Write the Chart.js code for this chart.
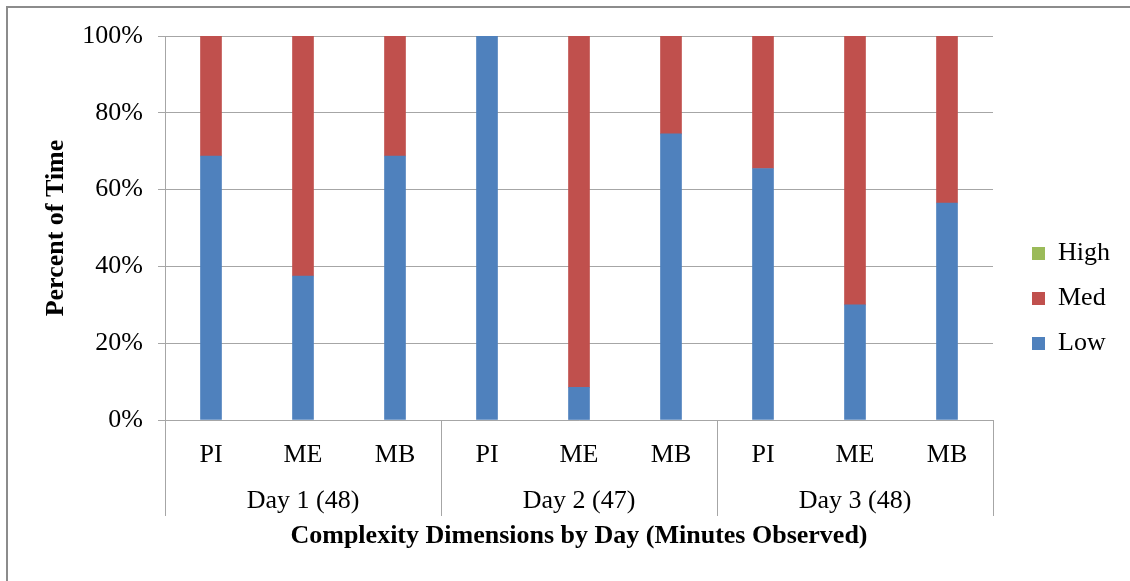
<!DOCTYPE html>
<html>
<head>
<meta charset="utf-8">
<script src="https://cdn.jsdelivr.net/npm/chart.js@4.4.1/dist/chart.umd.min.js"></script>
<style>
  html, body { margin: 0; padding: 0; background: #fff; }
  #wrap { position: relative; width: 1130px; height: 581px; }
</style>
</head>
<body>
<div id="wrap"><canvas id="complexityChart" width="1130" height="581"></canvas></div>
<script>
// Категории: измерение сложности по дням
const dimensions = ['PI', 'ME', 'MB', 'PI', 'ME', 'MB', 'PI', 'ME', 'MB'];
const dayLabels = ['Day 1 (48)', 'Day 2 (47)', 'Day 3 (48)'];

// Доля времени (%) для каждого уровня сложности
const lowValues  = [68.75, 37.5, 68.75, 100, 8.5, 74.5, 65.5, 30, 56.5];
const medValues  = [31.25, 62.5, 31.25, 0, 91.5, 25.5, 34.5, 70, 43.5];
const highValues = [0, 0, 0, 0, 0, 0, 0, 0, 0];

const yTicks = [0, 20, 40, 60, 80, 100];

const serif = "'Liberation Serif', 'Times New Roman', serif";
const gridColor = '#a6a6a6';
const fontSize = 26;

// Рамка сверху и слева, разделители групп по дням
const framePlugin = {
    id: 'frame',
    afterLayout(chart) {
        // немного сдвигаем легенду вправо
        chart.legend.left += 20;
        chart.legend.right += 20;
    },
    beforeDraw(chart) {
        const ctx = chart.ctx;
        ctx.save();
        ctx.strokeStyle = '#8c8c8c';
        ctx.lineWidth = 2;
        ctx.beginPath();
        ctx.moveTo(7, 581);
        ctx.lineTo(7, 7);
        ctx.lineTo(1130, 7);
        ctx.stroke();
        ctx.restore();
    },
    afterDraw(chart) {
        const ctx = chart.ctx;
        const x = chart.scales.x;
        const day = chart.scales.day;
        const step = (x.right - x.left) / dayLabels.length;
        ctx.save();
        ctx.strokeStyle = gridColor;
        ctx.lineWidth = 1;
        for (let i = 0; i <= dayLabels.length; i++) {
            const px = Math.round(x.left + i * step) + 0.5;
            ctx.beginPath();
            ctx.moveTo(px, x.top);
            ctx.lineTo(px, day.top + 40);
            ctx.stroke();
        }
        ctx.restore();
    }
};

const ctx = document.getElementById('complexityChart').getContext('2d');

new Chart(ctx, {
    type: 'bar',
    data: {
        labels: dimensions,
        datasets: [
            { label: 'Low',  data: lowValues,  backgroundColor: '#4f81bd', stack: 's' },
            { label: 'Med',  data: medValues,  backgroundColor: '#c0504d', stack: 's' },
            { label: 'High', data: highValues, backgroundColor: '#9bbb59', stack: 's' }
        ]
    },
    options: {
        responsive: false,
        animation: false,
        layout: { padding: { top: 36, right: 30, left: 20, bottom: 20 } },
        datasets: { bar: { barThickness: 21 } },
        plugins: {
            tooltip: { enabled: false },
            legend: {
                position: 'right',
                reverse: true,
                labels: {
                    boxWidth: 13,
                    boxHeight: 13,
                    padding: 19,
                    color: '#000',
                    font: { family: serif, size: fontSize }
                }
            }
        },
        scales: {
            x: {
                stacked: true,
                grid: { display: false },
                border: { color: gridColor },
                ticks: { color: '#000', padding: 12, font: { family: serif, size: fontSize } },
                afterFit(scale) { scale.height = 56; }
            },
            day: {
                type: 'category',
                labels: dayLabels,
                position: 'bottom',
                grid: { display: false },
                border: { display: false },
                ticks: { color: '#000', padding: 2, font: { family: serif, size: fontSize } },
                title: {
                    display: true,
                    text: 'Complexity Dimensions by Day (Minutes Observed)',
                    color: '#000',
                    padding: { top: 0, bottom: 9 },
                    font: { family: serif, size: fontSize, weight: 'bold' }
                },
                afterFit(scale) { scale.height = 85; }
            },
            y: {
                stacked: true,
                min: 0,
                max: 100,
                grid: { color: gridColor, tickLength: 7 },
                border: { color: gridColor },
                afterBuildTicks(scale) { scale.ticks = yTicks.map(v => ({ value: v })); },
                ticks: {
                    color: '#000',
                    padding: 15,
                    font: { family: serif, size: fontSize },
                    callback: v => v + '%'
                },
                title: {
                    display: true,
                    text: 'Percent of Time',
                    color: '#000',
                    padding: { top: 21, bottom: 0 },
                    font: { family: serif, size: fontSize, weight: 'bold' }
                },
                afterFit(scale) { scale.width = 145; }
            }
        }
    },
    plugins: [framePlugin]
});
</script>
</body>
</html>
